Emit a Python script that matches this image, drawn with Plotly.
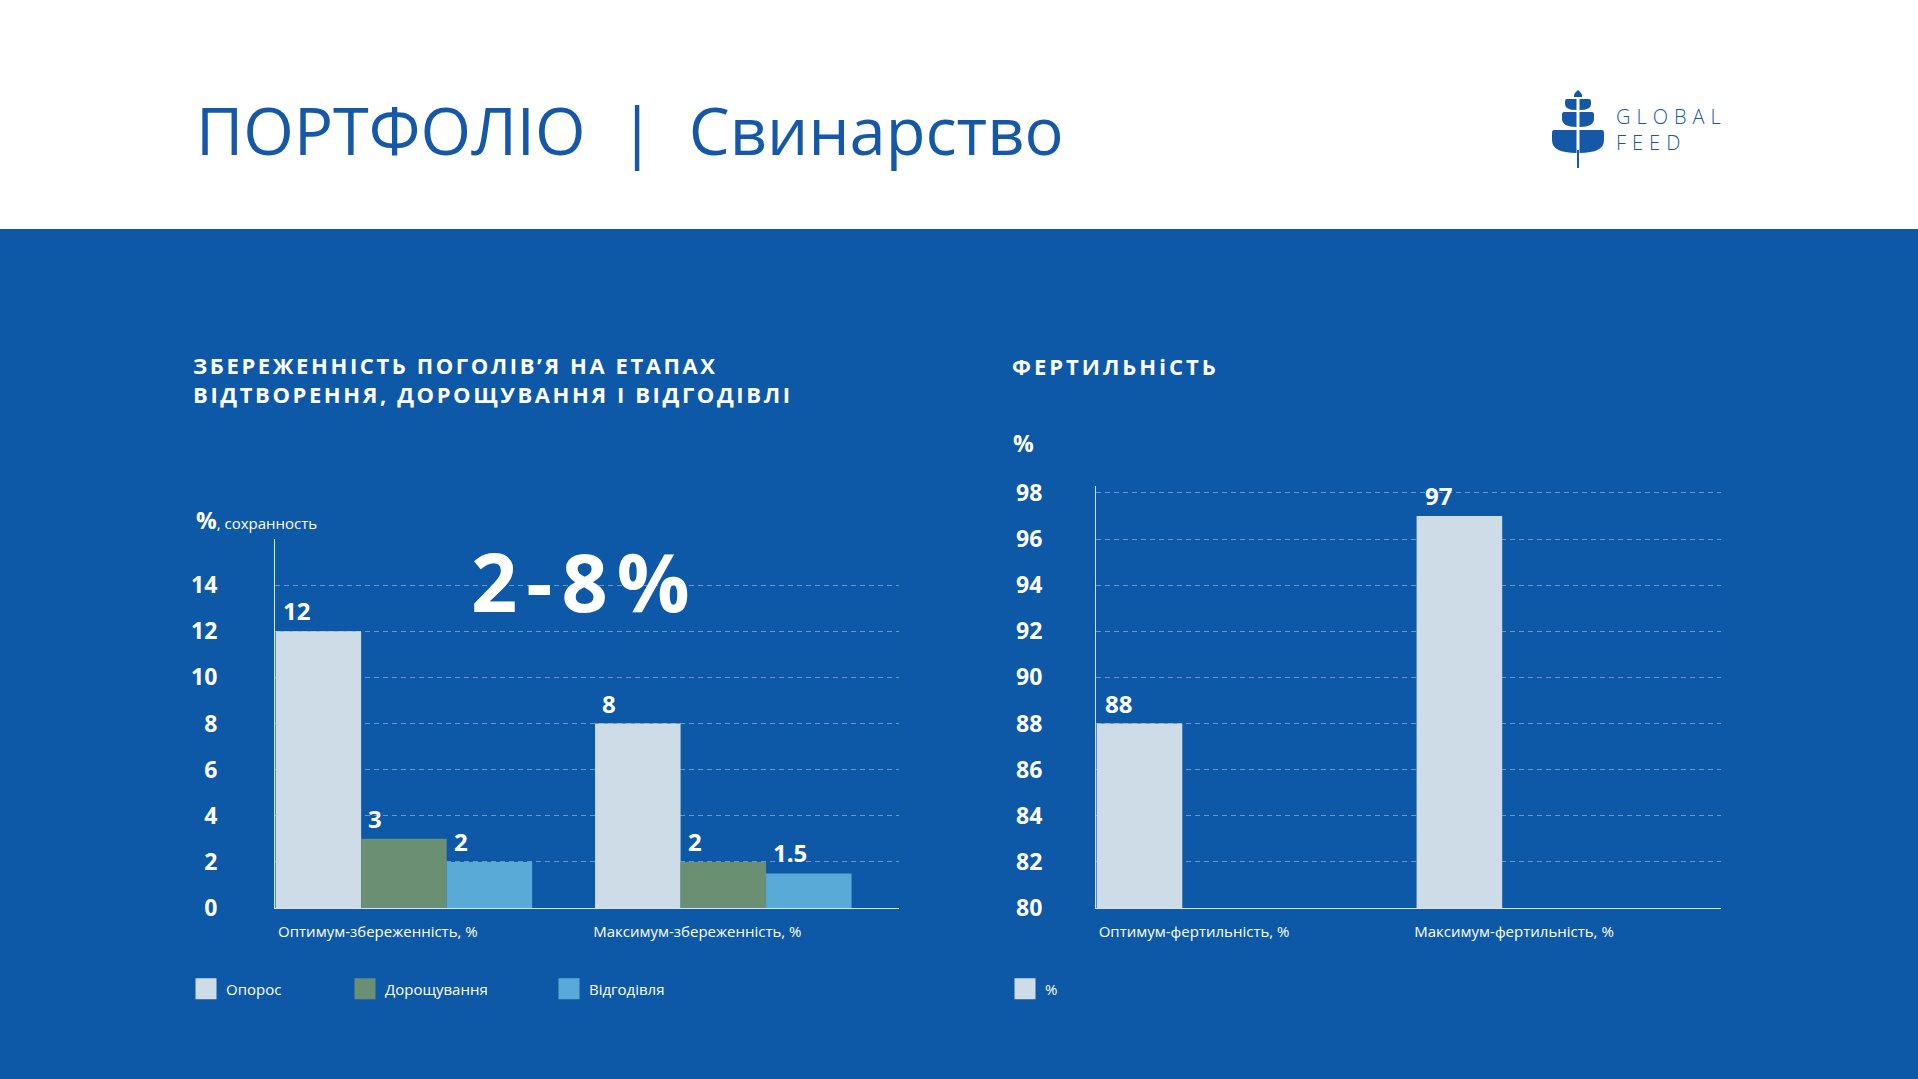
import plotly.graph_objects as go

W, H = 1918, 1079

# ---------------- data ----------------
page_title = "ПОРТФОЛІО  |  Свинарство"
left_title_lines = ["ЗБЕРЕЖЕННІСТЬ ПОГОЛІВ’Я НА ЕТАПАХ", "ВІДТВОРЕННЯ, ДОРОЩУВАННЯ І ВІДГОДІВЛІ"]
right_title = "ФЕРТИЛЬНіСТЬ"
left_unit = "%"
left_unit_note = ", сохранность"
right_unit = "%"
highlight = "2-8%"

surv_categories = ["Оптимум-збереженність, %", "Максимум-збереженність, %"]
surv_series = ["Опорос", "Дорощування", "Відгодівля"]
surv_oporos = [12, 8]
surv_dorosh = [3, 2]
surv_vidgod = [2, 1.5]
surv_ticks = [0, 2, 4, 6, 8, 10, 12, 14, 16]
surv_ticklabels = ["0", "2", "4", "6", "8", "10", "12", "14", ""]

fert_categories = ["Оптимум-фертильність, %", "Максимум-фертильність, %"]
fert_series = "%"
fert_values = [88, 97]
fert_ticks = [80, 82, 84, 86, 88, 90, 92, 94, 96, 98]

logo_lines = ["GLOBAL", "FEED"]

# ---------------- style ----------------
BLUE = "#0e58a8"
TITLE_BLUE = "#1558a8"
C_OPOROS = "#cddce6"
C_DOROSH = "#6b8f73"
C_VIDGOD = "#5aaad8"
GRID = "rgba(255,255,255,0.38)"
AXLINE = "rgba(240,245,250,0.9)"
FONT = "Open Sans"

BARGAP = 0.197
GROUP_W = 1 - BARGAP
BAR_W = GROUP_W / 3
X_RANGE = [-GROUP_W / 2 - 0.002, 1.55]


def X(px):
    return px / W


def Y(py):
    return 1 - py / H


def spaced(text, ls):
    return f"<span style='letter-spacing:{ls}px'>{text}</span>"


fig = go.Figure()

series_vals = [surv_oporos, surv_dorosh, surv_vidgod]
series_cols = [C_OPOROS, C_DOROSH, C_VIDGOD]
legend_x = [186, 345, 549]
annotations = []
legends = {}

for j, (name, vals, col) in enumerate(zip(surv_series, series_vals, series_cols)):
    off = -GROUP_W / 2 + j * BAR_W
    fig.add_trace(go.Bar(
        x=surv_categories, y=vals, name=name, marker=dict(color=col, line=dict(width=0)),
        width=BAR_W, offset=off, xaxis="x", yaxis="y", showlegend=False,
    ))
    lg = "legend" if j == 0 else f"legend{j + 2}"
    legends[lg] = legend_x[j]
    # legend proxy
    fig.add_trace(go.Scatter(
        x=[None], y=[None], mode="markers", name=name,
        marker=dict(symbol="square", size=16, color=col, line=dict(color=col, width=5)),
        xaxis="x", yaxis="y", legend=lg,
    ))
    for i, v in enumerate(vals):
        annotations.append(dict(
            x=i + off, y=v, xref="x", yref="y", text=f"{v:g}", showarrow=False,
            xanchor="left", yanchor="bottom", xshift=5, yshift=2,
            font=dict(family=FONT, size=24, color="white", weight=700),
        ))

off_f = -GROUP_W / 2
fig.add_trace(go.Bar(
    x=fert_categories, y=[v - fert_ticks[0] for v in fert_values], base=fert_ticks[0],
    name=fert_series, marker=dict(color=C_OPOROS, line=dict(width=0)),
    width=BAR_W, offset=off_f, xaxis="x2", yaxis="y2", showlegend=False,
))
fig.add_trace(go.Scatter(
    x=[None], y=[None], mode="markers", name=fert_series,
    marker=dict(symbol="square", size=16, color=C_OPOROS, line=dict(color=C_OPOROS, width=5)),
    xaxis="x2", yaxis="y2", legend="legend2",
))
legends["legend2"] = 1005
for i, v in enumerate(fert_values):
    annotations.append(dict(
        x=i + off_f, y=v, xref="x2", yref="y2", text=f"{v:g}", showarrow=False,
        xanchor="left", yanchor="bottom", xshift=6, yshift=2,
        font=dict(family=FONT, size=24, color="white", weight=700),
    ))

# text annotations
annotations += [
    dict(x=X(194), y=Y(130), xref="paper", yref="paper", text=page_title, showarrow=False,
         xanchor="left", yanchor="middle", font=dict(family=FONT, size=65, color=TITLE_BLUE)),
    dict(x=X(191), y=Y(380), xref="paper", yref="paper",
         text="<br>".join(spaced(t, 2.6) for t in left_title_lines),
         showarrow=False, xanchor="left", yanchor="middle", align="left",
         font=dict(family=FONT, size=22, color="white", weight=700)),
    dict(x=X(1010), y=Y(366), xref="paper", yref="paper", text=spaced(right_title, 3),
         showarrow=False, xanchor="left", yanchor="middle",
         font=dict(family=FONT, size=22, color="white", weight=700)),
    dict(x=X(194), y=Y(520), xref="paper", yref="paper",
         text=f"<b>{left_unit}</b><span style='font-size:15px'>{left_unit_note}</span>",
         showarrow=False, xanchor="left", yanchor="middle",
         font=dict(family=FONT, size=23, color="white")),
    dict(x=X(1011), y=Y(443), xref="paper", yref="paper", text=f"<b>{right_unit}</b>",
         showarrow=False, xanchor="left", yanchor="middle",
         font=dict(family=FONT, size=23, color="white")),
    dict(x=X(585), y=Y(580), xref="paper", yref="paper", text=spaced(f"<b>{highlight}</b>", 9),
         showarrow=False, xanchor="center", yanchor="middle",
         font=dict(family=FONT, size=81, color="white")),
    dict(x=X(1615), y=Y(130), xref="paper", yref="paper",
         text="<br>".join(spaced(t, 6) for t in logo_lines),
         showarrow=False, xanchor="left", yanchor="middle", align="left", borderpad=0,
         font=dict(family=FONT, size=20, color=TITLE_BLUE, weight=300)),
]


def P(points):
    s = ""
    for cmd, pts in points:
        s += cmd + " ".join(f"{X(a):.5f},{Y(b):.5f}" for a, b in pts) + " "
    return s + "Z"


shapes = [
    dict(type="rect", xref="paper", yref="paper", x0=0, x1=1, y0=0, y1=Y(229),
         fillcolor=BLUE, line=dict(width=0), layer="below"),
]
# logo icon
sx = 1578
leaf_rows = [(99, 110, 1565), (112, 127, 1562), (130, 153, 1552)]
for (yt, yb, xo) in leaf_rows:
    for side in (-1, 1):
        inner = sx + side * 1.5
        outer = sx + side * (sx - xo)
        path = P([("M", [(inner, yt)]), ("L", [(outer - side * 2, yt)]),
                  ("Q", [(outer, yt), (outer, yt + 3)]),
                  ("L", [(outer, yt + (yb - yt) * 0.45)]),
                  ("Q", [(outer, yb), (inner, yb)])])
        shapes.append(dict(type="path", xref="paper", yref="paper", path=path,
                           fillcolor=TITLE_BLUE, line=dict(width=0)))
shapes.append(dict(type="path", xref="paper", yref="paper",
                   path=P([("M", [(sx, 90)]), ("Q", [(sx + 5, 94), (sx + 4, 97)]),
                           ("L", [(sx - 4, 97)]), ("Q", [(sx - 5, 94), (sx, 90)])]),
                   fillcolor=TITLE_BLUE, line=dict(width=0)))
shapes.append(dict(type="line", xref="paper", yref="paper", x0=X(sx), x1=X(sx),
                   y0=Y(150), y1=Y(168), line=dict(color=TITLE_BLUE, width=2)))

axis_common = dict(showgrid=False, zeroline=False, showline=True, linecolor=AXLINE, linewidth=1,
                   ticks="", tickfont=dict(family=FONT, size=15, color="white"),
                   type="category", range=X_RANGE, ticklabelstandoff=10)
yaxis_common = dict(showgrid=True, gridcolor=GRID, griddash="5px,4px", gridwidth=1,
                    zeroline=False, showline=True, linecolor=AXLINE, linewidth=1, ticks="",
                    tickfont=dict(family=FONT, size=23, color="white", weight=700))

legend_layout = {}
for key, lx in legends.items():
    legend_layout[key] = dict(orientation="h", x=X(lx), y=Y(989), xanchor="left", yanchor="middle",
                              font=dict(family=FONT, size=15, color="white"),
                              bgcolor="rgba(0,0,0,0)", itemsizing="trace")

fig.update_layout(
    autosize=True,
    margin=dict(l=0, r=0, t=0, b=0, autoexpand=False),
    paper_bgcolor="white", plot_bgcolor="rgba(0,0,0,0)",
    barmode="overlay",
    xaxis=dict(domain=[X(275), X(899)], anchor="y", ticklabelshift=-26, **axis_common),
    yaxis=dict(domain=[Y(908), Y(539)], anchor="x", range=[0, 16],
               tickvals=surv_ticks, ticktext=surv_ticklabels, ticklabelstandoff=52, **yaxis_common),
    xaxis2=dict(domain=[X(1096), X(1721)], anchor="y2", ticklabelshift=-31, **axis_common),
    yaxis2=dict(domain=[Y(908), Y(486)], anchor="x2", range=[80, 98.3],
                tickvals=fert_ticks, ticklabelstandoff=48, **yaxis_common),
    annotations=annotations,
    shapes=shapes,
    **legend_layout,
)

fig.write_html(
    "out.html", config={"displayModeBar": False},
    default_width="100vw", default_height="100vh",
    post_script=("document.documentElement.style.background='%s';"
                 "document.body.style.background='%s';"
                 "document.body.style.margin='0';document.body.style.overflow='hidden';"
                 "document.body.style.lineHeight='0';document.body.style.fontSize='0';") % (BLUE, BLUE),
)
